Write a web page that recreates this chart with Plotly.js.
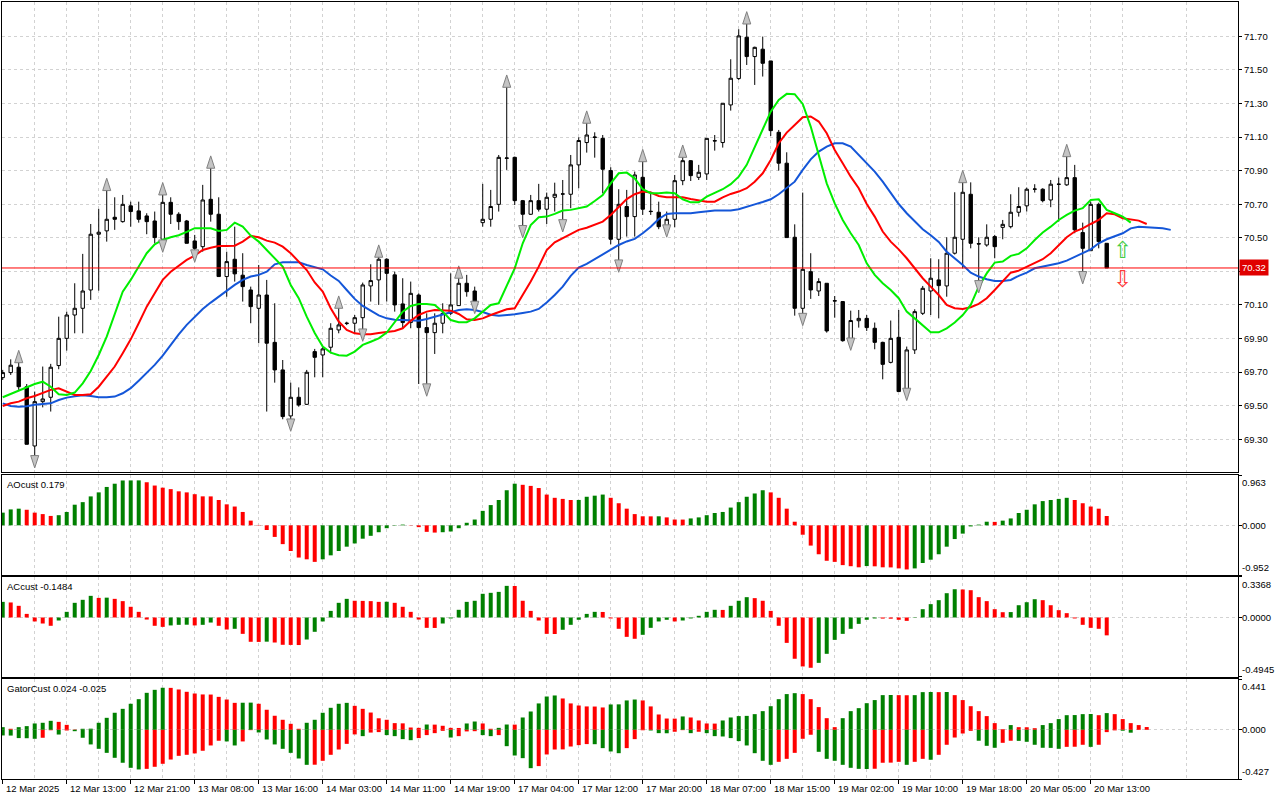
<!DOCTYPE html>
<html><head><meta charset="utf-8">
<script src="https://cdn.plot.ly/plotly-3.0.1.min.js"></script>
<style>html,body{margin:0;padding:0;background:#fff;}#chart{width:1280px;height:800px;}</style>
</head><body><div id="chart"></div>
<script>
const openP=[69.667,69.697,69.729,69.613,69.260,69.524,69.550,69.739,69.901,70.040,
70.080,70.189,70.521,70.541,70.622,70.596,70.690,70.660,70.630,70.600,
70.491,70.711,70.640,70.600,70.481,70.447,70.729,70.640,70.269,70.372,
70.277,70.189,70.080,70.159,69.877,69.713,69.439,69.550,69.508,69.822,
69.802,69.848,69.951,69.989,69.991,70.024,70.213,70.249,70.372,70.279,
70.106,69.995,70.159,69.965,69.935,69.991,70.050,70.096,70.229,70.183,
70.590,70.610,70.699,70.973,70.979,70.721,70.640,70.721,70.670,70.741,
70.760,70.759,70.934,71.067,71.100,71.092,70.900,70.491,70.686,70.626,
70.860,70.658,70.652,70.566,70.610,70.840,70.959,70.860,70.880,71.076,
71.067,71.291,71.448,71.694,71.579,71.623,71.553,71.128,70.944,70.503,
70.080,70.298,70.183,70.229,70.123,70.120,69.877,70.006,70.020,69.961,
69.877,69.758,69.907,69.598,69.832,70.050,70.183,70.249,70.213,70.408,
70.491,70.759,70.465,70.457,70.507,70.562,70.566,70.652,70.690,70.789,
70.789,70.725,70.818,70.815,70.858,70.531,70.423,70.699,70.467];
const highP=[69.713,69.776,69.776,69.629,69.584,69.733,69.749,70.030,70.060,70.229,
70.404,70.582,70.672,70.801,70.741,70.755,70.715,70.715,70.646,70.656,
70.775,70.741,70.652,70.606,70.517,70.815,70.934,70.741,70.417,70.566,
70.408,70.209,70.338,70.249,70.110,69.772,69.637,69.609,69.713,69.838,
69.852,69.991,70.100,70.000,70.040,70.233,70.342,70.404,70.378,70.298,
70.259,70.239,70.169,70.050,70.050,70.110,70.288,70.279,70.279,70.209,
70.821,70.785,70.993,71.416,70.983,70.725,70.755,70.821,70.769,70.828,
70.844,70.993,71.098,71.202,71.128,71.112,70.920,70.789,70.785,70.894,
70.973,70.775,70.715,70.656,70.874,70.999,70.963,70.934,71.092,71.112,
71.301,71.563,71.742,71.793,71.638,71.698,71.553,71.142,71.009,70.580,
70.769,70.408,70.259,70.229,70.153,70.123,70.066,70.070,70.040,69.995,
69.881,70.007,70.070,69.852,70.074,70.213,70.378,70.372,70.503,70.771,
70.848,70.830,70.503,70.580,70.517,70.606,70.759,70.801,70.799,70.819,
70.795,70.844,70.858,71.003,70.934,70.590,70.715,70.709,70.467];
const lowP=[69.653,69.683,69.594,69.270,69.177,69.490,69.465,69.717,69.828,69.931,
69.931,70.130,70.185,70.477,70.547,70.590,70.566,70.590,70.521,70.467,
70.461,70.582,70.547,70.467,70.402,70.417,70.596,70.269,70.149,70.239,
70.120,69.991,69.872,69.465,69.637,69.419,69.395,69.494,69.504,69.669,
69.669,69.812,69.931,69.980,69.931,69.931,70.120,70.100,70.120,70.060,
69.961,69.961,69.629,69.604,69.808,69.931,70.040,70.094,70.149,70.096,
70.566,70.566,70.656,70.904,70.695,70.547,70.636,70.656,70.582,70.656,
70.582,70.676,70.795,71.007,70.977,70.765,70.461,70.342,70.507,70.507,
70.636,70.636,70.551,70.551,70.562,70.813,70.838,70.844,70.844,71.019,
71.037,71.257,71.440,71.529,71.410,71.460,71.106,70.900,70.501,70.036,
70.024,70.136,70.153,69.935,70.024,69.881,69.877,69.965,69.945,69.836,
69.657,69.752,69.584,69.578,69.808,70.040,70.040,70.020,70.149,70.400,
70.318,70.437,70.219,70.447,70.378,70.491,70.556,70.626,70.656,70.769,
70.711,70.682,70.596,70.809,70.527,70.273,70.423,70.437,70.320];
const closeP=[69.697,69.741,69.613,69.270,69.524,69.540,69.729,69.901,70.040,70.080,
70.183,70.521,70.533,70.610,70.610,70.699,70.656,70.610,70.596,70.501,
70.711,70.640,70.596,70.467,70.437,70.725,70.640,70.269,70.358,70.285,
70.209,70.090,70.159,69.872,69.713,69.435,69.550,69.504,69.699,69.788,
69.838,69.961,69.981,69.991,70.024,70.219,70.245,70.372,70.288,70.100,
69.995,70.169,69.965,69.935,69.991,70.050,70.100,70.229,70.179,70.120,
70.610,70.686,70.979,70.975,70.721,70.640,70.721,70.670,70.741,70.759,
70.761,70.934,71.079,71.112,71.098,70.908,70.491,70.699,70.626,70.874,
70.670,70.656,70.566,70.610,70.840,70.959,70.870,70.890,71.092,71.078,
71.301,71.450,71.702,71.579,71.634,71.539,71.138,70.944,70.501,70.080,
70.312,70.189,70.239,69.945,70.125,69.887,70.007,70.020,69.965,69.877,
69.746,69.901,69.584,69.832,70.060,70.199,70.259,70.215,70.408,70.503,
70.771,70.467,70.463,70.503,70.447,70.580,70.652,70.686,70.789,70.790,
70.721,70.819,70.819,70.858,70.547,70.437,70.699,70.477,70.32];

// Alligator lines (lips shifted +3, teeth +5, jaw +8)
const lips=[69.550,69.570,69.590,69.613,69.629,69.643,69.613,69.568,69.564,69.578,
69.633,69.707,69.802,69.911,70.050,70.179,70.249,70.328,70.408,70.461,
70.487,70.503,70.515,70.535,70.557,70.557,70.557,70.541,70.547,70.590,
70.566,70.513,70.477,70.427,70.378,70.328,70.219,70.140,70.030,69.933,
69.852,69.816,69.800,69.798,69.822,69.862,69.881,69.901,69.935,69.995,
70.060,70.094,70.106,70.106,70.100,70.060,70.010,69.997,69.997,70.020,
70.060,70.100,70.110,70.209,70.318,70.467,70.576,70.622,70.626,70.642,
70.662,70.666,70.674,70.686,70.719,70.755,70.824,70.884,70.888,70.854,
70.789,70.765,70.765,70.769,70.765,70.729,70.711,70.711,70.745,70.769,
70.789,70.819,70.864,70.934,71.043,71.152,71.251,71.321,71.357,71.355,
71.297,71.162,70.993,70.824,70.705,70.606,70.527,70.457,70.348,70.279,
70.229,70.189,70.140,70.060,70.020,69.981,69.937,69.937,69.961,69.995,
70.040,70.100,70.209,70.288,70.352,70.358,70.392,70.404,70.437,70.487,
70.531,70.566,70.606,70.636,70.662,70.676,70.725,70.729,70.666,70.646,
70.626,70.590];
const teeth=[69.498,69.514,69.524,69.544,69.558,69.574,69.594,69.604,69.584,69.564,
69.564,69.568,69.613,69.673,69.733,69.812,69.895,69.991,70.090,70.169,
70.249,70.298,70.334,70.368,70.394,70.427,70.441,70.451,70.451,70.453,
70.477,70.511,70.503,70.483,70.471,70.447,70.408,70.358,70.308,70.234,
70.179,70.080,70.001,69.951,69.931,69.925,69.925,69.933,69.939,69.945,
69.961,70.005,70.040,70.060,70.070,70.070,70.066,70.046,70.014,70.010,
70.020,70.040,70.056,70.074,70.080,70.159,70.239,70.328,70.427,70.473,
70.499,70.523,70.547,70.560,70.576,70.596,70.636,70.686,70.730,70.759,
70.775,70.769,70.749,70.741,70.741,70.741,70.731,70.721,70.715,70.715,
70.741,70.761,70.775,70.795,70.834,70.884,70.963,71.063,71.126,71.172,
71.218,71.222,71.192,71.122,71.023,70.944,70.864,70.795,70.701,70.626,
70.537,70.477,70.431,70.378,70.318,70.259,70.209,70.159,70.100,70.080,
70.076,70.086,70.106,70.140,70.189,70.239,70.292,70.304,70.328,70.348,
70.372,70.408,70.457,70.503,70.537,70.556,70.582,70.606,70.646,70.640,
70.616,70.610,70.602,70.582];
const jaw=[69.514,69.498,69.494,69.496,69.506,69.512,69.514,69.534,69.548,69.556,
69.562,69.558,69.550,69.550,69.554,69.574,69.604,69.649,69.693,69.743,
69.798,69.862,69.925,69.981,70.030,70.076,70.114,70.149,70.185,70.219,
70.249,70.269,70.279,70.298,70.342,70.354,70.354,70.354,70.338,70.326,
70.312,70.275,70.243,70.189,70.136,70.094,70.064,70.038,70.020,70.012,
70.010,70.010,70.006,70.016,70.030,70.046,70.060,70.070,70.074,70.070,
70.058,70.042,70.036,70.038,70.044,70.052,70.060,70.076,70.114,70.159,
70.209,70.273,70.322,70.344,70.372,70.404,70.427,70.457,70.478,70.493,
70.527,70.566,70.612,70.642,70.646,70.646,70.646,70.652,70.658,70.662,
70.662,70.662,70.670,70.686,70.699,70.713,70.729,70.759,70.795,70.834,
70.904,70.967,71.013,71.043,71.063,71.063,71.043,70.993,70.948,70.894,
70.834,70.769,70.701,70.646,70.596,70.551,70.515,70.475,70.417,70.378,
70.338,70.292,70.269,70.253,70.243,70.243,70.249,70.273,70.292,70.318,
70.328,70.342,70.348,70.364,70.384,70.408,70.431,70.467,70.491,70.511,
70.527,70.556,70.566,70.562,70.560,70.556,70.547];

const fractalUpIdx=[2,13,20,26,42,47,57,63,73,80,85,93,120,133];
const fractalDnIdx=[4,20,24,36,45,53,59,65,70,77,83,100,106,113,122,135];
const signalIdx=[140];
const signalUpY=[70.415];
const signalDnY=[70.240];

const ao=[0.243,0.305,0.319,0.298,0.243,0.215,0.180,0.194,0.256,0.395,
0.444,0.554,0.631,0.735,0.797,0.859,0.860,0.861,0.825,0.762,
0.721,0.693,0.651,0.631,0.596,0.555,0.554,0.485,0.402,0.360,
0.256,0.090,0.007,-0.090,-0.222,-0.360,-0.492,-0.617,-0.651,-0.700,
-0.651,-0.575,-0.492,-0.409,-0.347,-0.256,-0.201,-0.132,-0.055,-0.007,
0.014,0.005,-0.035,-0.125,-0.139,-0.132,-0.118,-0.055,0.049,0.111,
0.277,0.388,0.485,0.672,0.797,0.776,0.755,0.714,0.589,0.527,
0.506,0.485,0.486,0.547,0.568,0.589,0.527,0.423,0.319,0.215,
0.173,0.172,0.173,0.152,0.111,0.110,0.132,0.152,0.194,0.236,
0.256,0.340,0.444,0.547,0.610,0.672,0.631,0.527,0.319,0.069,
-0.180,-0.388,-0.554,-0.679,-0.700,-0.762,-0.783,-0.804,-0.780,-0.785,
-0.804,-0.806,-0.825,-0.845,-0.825,-0.721,-0.658,-0.554,-0.409,-0.263,
-0.159,-0.021,0.014,0.069,0.066,0.090,0.132,0.236,0.298,0.402,
0.464,0.485,0.506,0.527,0.485,0.423,0.360,0.319,0.179];
const aoColor="gggrrrrggg"+"ggggggggrr"+"rrrrrrrrrr"+"rrrrrrrrrr"+"gggggggggg"+"grrrrggggg"+"gggggrrrrr"+"rrggggrrrr"+"rrgrrrgggg"+"ggggggrrrr"+"rrrrrrrrgr"+"rrrrgggggg"+"ggggrggggg"+"ggggrrrrr";
const aoScale=[-0.952,0.963];

const ac=[0.130,0.125,0.097,0.030,-0.033,-0.050,-0.069,-0.025,0.047,0.122,
0.147,0.180,0.163,0.165,0.155,0.136,0.089,0.047,-0.017,-0.069,
-0.078,-0.066,-0.061,-0.060,-0.066,-0.061,-0.042,-0.069,-0.100,-0.094,
-0.136,-0.202,-0.203,-0.201,-0.208,-0.227,-0.228,-0.229,-0.183,-0.119,
-0.033,0.055,0.122,0.155,0.139,0.138,0.136,0.130,0.131,0.122,
0.089,0.047,-0.017,-0.086,-0.087,-0.050,-0.008,0.064,0.130,0.139,
0.197,0.205,0.213,0.263,0.262,0.139,0.055,-0.025,-0.136,-0.137,
-0.102,-0.061,-0.019,0.030,0.047,0.046,-0.008,-0.094,-0.161,-0.177,
-0.144,-0.086,-0.033,-0.019,-0.033,-0.025,-0.008,0.014,0.047,0.064,
0.063,0.097,0.139,0.169,0.161,0.139,0.055,-0.069,-0.211,-0.343,
-0.407,-0.418,-0.377,-0.302,-0.186,-0.136,-0.094,-0.053,-0.019,-0.008,
-0.009,-0.010,-0.019,-0.028,0.003,0.069,0.111,0.144,0.202,0.235,
0.233,0.227,0.169,0.136,0.069,0.044,0.045,0.102,0.127,0.152,
0.144,0.102,0.061,0.036,-0.008,-0.061,-0.086,-0.094,-0.1484];
const acColor="grrrrrrggg"+"ggrgrrrrrr"+"rgggrggrrg"+"rrrgrrrrgg"+"ggggrrrrgr"+"rrrrrggggg"+"ggggrrrrrr"+"gggggrrrrr"+"ggggrggggg"+"rgggrrrrrr"+"rrgggggggg"+"rrrrgggggg"+"rrrrrrgggg"+"rrrrrrrrr";
const acScale=[-0.4945,0.3368];

const gatorUp=[0.023,0.009,0.023,0.032,0.055,0.061,0.078,0.069,0.043,0.003,
0.009,0.010,0.061,0.104,0.148,0.182,0.226,0.266,0.321,0.347,
0.365,0.364,0.350,0.330,0.315,0.307,0.306,0.286,0.263,0.234,
0.235,0.236,0.226,0.174,0.122,0.087,0.052,0.009,0.061,0.087,
0.148,0.191,0.226,0.234,0.208,0.182,0.150,0.100,0.087,0.058,
0.056,0.020,0.017,0.046,0.045,0.035,0.017,0.016,0.055,0.072,
0.055,0.009,0.017,0.046,0.045,0.107,0.159,0.229,0.289,0.298,
0.272,0.229,0.211,0.203,0.202,0.194,0.220,0.221,0.255,0.263,
0.255,0.203,0.133,0.098,0.097,0.116,0.107,0.081,0.055,0.054,
0.081,0.107,0.119,0.121,0.136,0.162,0.205,0.266,0.310,0.318,
0.310,0.266,0.197,0.101,0.023,0.101,0.162,0.188,0.231,0.258,
0.301,0.302,0.301,0.300,0.301,0.327,0.328,0.327,0.328,0.301,
0.258,0.205,0.162,0.119,0.058,0.006,0.041,0.023,0.022,0.014,
0.041,0.058,0.093,0.127,0.128,0.136,0.137,0.127,0.145,0.136,
0.093,0.058,0.041,0.024];
const gatorUpColor="grgggggrrr"+"gggggggggg"+"grrrrrrrrr"+"ggrrrrrrgg"+"ggggrrrrrr"+"rrrgrrrrgg"+"rrggrggggg"+"rrrrrrgggg"+"rrrrrgrrrr"+"gggggggggg"+"rrrrrggggg"+"ggrrgggrgr"+"rrrrrrgrrr"+"gggggggrgr"+"rrrr";
const gatorLo=[-0.049,-0.050,-0.072,-0.073,-0.078,-0.069,-0.004,-0.041,-0.006,-0.012,
-0.069,-0.127,-0.165,-0.200,-0.243,-0.286,-0.330,-0.344,-0.339,-0.321,
-0.295,-0.258,-0.226,-0.217,-0.205,-0.182,-0.136,-0.095,-0.101,-0.136,
-0.101,-0.003,-0.023,-0.084,-0.127,-0.165,-0.200,-0.249,-0.304,-0.303,
-0.269,-0.217,-0.171,-0.122,-0.040,-0.055,-0.024,-0.020,-0.046,-0.055,
-0.081,-0.090,-0.072,-0.046,-0.029,-0.009,-0.067,-0.055,-0.014,-0.012,
-0.046,-0.055,-0.046,-0.142,-0.223,-0.246,-0.333,-0.315,-0.214,-0.171,
-0.170,-0.145,-0.133,-0.124,-0.125,-0.159,-0.188,-0.203,-0.159,-0.081,
-0.004,-0.006,-0.029,-0.030,-0.017,-0.003,-0.029,-0.017,-0.029,-0.055,
-0.058,-0.072,-0.098,-0.136,-0.203,-0.269,-0.304,-0.278,-0.252,-0.200,
-0.078,-0.043,-0.191,-0.252,-0.269,-0.304,-0.330,-0.339,-0.340,-0.338,
-0.286,-0.285,-0.278,-0.304,-0.278,-0.252,-0.260,-0.217,-0.130,-0.067,
-0.032,-0.009,-0.095,-0.139,-0.156,-0.113,-0.095,-0.096,-0.104,-0.130,
-0.156,-0.157,-0.165,-0.148,-0.147,-0.130,-0.148,-0.130,-0.020,-0.005,
-0.008,-0.025];
const gatorLoColor="gggggrrgrg"+"ggggggggrr"+"rrrrrrrrgg"+"rrgggggggr"+"rrrrrgrrgg"+"ggrrrrgrrr"+"ggrggggrrr"+"rrrrggggrr"+"rgggrrgrgg"+"gggggggrrr"+"rrgggggggr"+"rrrgrrgrrr"+"rrgggrrggg"+"gggrrrgrrr"+"gg";
const gatorScale=[-0.427,0.441];

const priceTicks=[69.3,69.5,69.7,69.9,70.1,70.3,70.5,70.7,70.9,71.1,71.3,71.5,71.7];
const tickIdx=[0,8,16,24,32,40,48,56,64,72,80,88,96,104,112,120,128,136];
const tickText=["12 Mar 2025","12 Mar 13:00","12 Mar 21:00","13 Mar 08:00","13 Mar 16:00","14 Mar 03:00","14 Mar 11:00","14 Mar 19:00","17 Mar 04:00","17 Mar 12:00","17 Mar 20:00","18 Mar 07:00","18 Mar 15:00","19 Mar 02:00","19 Mar 10:00","19 Mar 18:00","20 Mar 05:00","20 Mar 13:00"];

// ---------- drawing ----------
const FONT="Liberation Sans";
const FS=9.5;
const GREEN="#008000", RED="#ff0000";
const col=s=>s.split("").map(c=>c==="g"?GREEN:RED);
const idx=n=>Array.from({length:n},(_,i)=>i);

const xRange=[-0.09,154.41];
const yRange=[69.105,71.904];
const mainPx=470;
const upPad=9*(yRange[1]-yRange[0])/mainPx;
const dnPad=8*(yRange[1]-yRange[0])/mainPx;
const lastClose=closeP[closeP.length-1];

const traces=[];
traces.push({type:"candlestick",x:idx(openP.length),open:openP,high:highP,low:lowP,close:closeP,
  xaxis:"x",yaxis:"y",hoverinfo:"skip",whiskerwidth:0,
  increasing:{line:{color:"#000",width:1},fillcolor:"#ffffff"},
  decreasing:{line:{color:"#000",width:1},fillcolor:"#000000"},showlegend:false});
traces.push({type:"scatter",mode:"lines",x:idx(jaw.length),y:jaw,line:{color:"#1456d8",width:2},xaxis:"x",yaxis:"y",hoverinfo:"skip"});
traces.push({type:"scatter",mode:"lines",x:idx(teeth.length),y:teeth,line:{color:"#ff0000",width:2},xaxis:"x",yaxis:"y",hoverinfo:"skip"});
traces.push({type:"scatter",mode:"lines",x:idx(lips.length),y:lips,line:{color:"#00ee00",width:2},xaxis:"x",yaxis:"y",hoverinfo:"skip"});
traces.push({type:"scatter",mode:"markers",x:fractalUpIdx,y:fractalUpIdx.map(i=>highP[i]+upPad),
  marker:{symbol:"arrow",size:13,color:"#c4c4c4",line:{color:"#808080",width:1}},xaxis:"x",yaxis:"y",hoverinfo:"skip"});
traces.push({type:"scatter",mode:"markers",x:fractalDnIdx,y:fractalDnIdx.map(i=>lowP[i]-dnPad),
  marker:{symbol:"arrow",angle:180,size:13,color:"#c4c4c4",line:{color:"#808080",width:1}},xaxis:"x",yaxis:"y",hoverinfo:"skip"});
// buy / sell signal arrows, stacked in one text so their boxes do not collide
traces.push({type:"scatter",mode:"text",x:signalIdx,y:signalIdx.map((s,k)=>(signalUpY[k]+signalDnY[k])/2),
  text:['<span style="color:#44cc44">\u21e7</span><br><span style="color:#ff3a3a">\u21e9</span>'],
  textfont:{family:"DejaVu Sans",size:23,color:"#44cc44"},xaxis:"x",yaxis:"y",hoverinfo:"skip"});
traces.push({type:"bar",x:idx(ao.length),y:ao,width:0.5,marker:{color:col(aoColor),line:{width:0}},xaxis:"x2",yaxis:"y2",hoverinfo:"skip"});
traces.push({type:"bar",x:idx(ac.length),y:ac,width:0.5,marker:{color:col(acColor),line:{width:0}},xaxis:"x3",yaxis:"y3",hoverinfo:"skip"});
traces.push({type:"bar",x:idx(gatorUp.length),y:gatorUp,width:0.5,marker:{color:col(gatorUpColor),line:{width:0}},xaxis:"x4",yaxis:"y4",hoverinfo:"skip"});
traces.push({type:"bar",x:idx(gatorLo.length),y:gatorLo,width:0.5,marker:{color:col(gatorLoColor),line:{width:0}},xaxis:"x4",yaxis:"y4",hoverinfo:"skip"});

const GRID="#d2d2d2", DASH="3px,3px";
const minorGrid=[];for(let g=4;g<=156;g+=8)minorGrid.push(g);
function xax(anchor,extra){
  return Object.assign({domain:[0,1],range:xRange,anchor:anchor,showticklabels:false,
    tickmode:"array",tickvals:tickIdx,ticks:"",showgrid:true,gridcolor:GRID,griddash:DASH,gridwidth:1,
    minor:{tickmode:"array",tickvals:minorGrid,showgrid:true,gridcolor:GRID,griddash:DASH,ticks:""},
    showline:true,mirror:true,linecolor:"#000",linewidth:1,zeroline:false,fixedrange:true},extra||{});
}
const dMain=[0.3951,1], dAO=[0.2625,0.3912], dAC=[0.1313,0.2600], dG=[0,0.1287];
function oscY(anchor,dom,sc){
  return {domain:dom,range:sc,anchor:anchor,side:"right",tickmode:"array",tickvals:[sc[0],0,sc[1]],
    showticklabels:false,ticks:"outside",ticklen:3,tickcolor:"#000",
    showgrid:true,gridcolor:GRID,griddash:DASH,zeroline:false,
    showline:true,mirror:true,linecolor:"#000",linewidth:1,fixedrange:true};
}
// the current-price box covers the tick label it sits on, as in the terminal
const priceTickText=priceTicks.map(v=>Math.abs(v-lastClose)<0.06?"":v.toFixed(2));
const layout={
  width:1280,height:800,margin:{l:2,r:42,t:2,b:21},paper_bgcolor:"#fff",plot_bgcolor:"#fff",
  showlegend:false,barmode:"overlay",boxgap:0.4,font:{family:FONT,size:FS,color:"#000"},
  xaxis:xax("y",{rangeslider:{visible:false}}),
  xaxis2:xax("y2",{matches:"x"}),
  xaxis3:xax("y3",{matches:"x"}),
  xaxis4:xax("y4",{matches:"x",ticks:"outside",ticklen:4,tickcolor:"#000"}),
  yaxis:{domain:dMain,range:yRange,anchor:"x",side:"right",tickmode:"array",tickvals:priceTicks,ticktext:priceTickText,
    ticks:"outside",ticklen:3,tickcolor:"#000",tickfont:{family:FONT,size:FS,color:"#000"},
    showgrid:true,gridcolor:GRID,griddash:DASH,zeroline:false,showline:true,mirror:true,linecolor:"#000",linewidth:1,fixedrange:true},
  yaxis2:oscY("x2",dAO,aoScale),
  yaxis3:oscY("x3",dAC,acScale),
  yaxis4:oscY("x4",dG,gatorScale),
  shapes:[{type:"line",xref:"paper",x0:0,x1:1,yref:"y",y0:lastClose,y1:lastClose,line:{color:"#ff0000",width:1}}],
  annotations:[]
};
const A=layout.annotations;
A.push({xref:"paper",x:1,xanchor:"left",xshift:1,yref:"y",y:lastClose,yanchor:"middle",text:lastClose.toFixed(2),
  showarrow:false,bgcolor:"#e00000",font:{family:FONT,size:FS,color:"#fff"},borderpad:2});
A.push({xref:"paper",x:0,xanchor:"left",xshift:3,yref:"paper",y:dAO[1],yanchor:"top",yshift:-2,showarrow:false,
  text:"AOcust "+ao[ao.length-1].toFixed(3),font:{family:FONT,size:FS,color:"#000"}});
A.push({xref:"paper",x:0,xanchor:"left",xshift:3,yref:"paper",y:dAC[1],yanchor:"top",yshift:-2,showarrow:false,
  text:"ACcust "+ac[ac.length-1].toFixed(4),font:{family:FONT,size:FS,color:"#000"}});
A.push({xref:"paper",x:0,xanchor:"left",xshift:3,yref:"paper",y:dG[1],yanchor:"top",yshift:-2,showarrow:false,
  text:"GatorCust "+gatorUp[gatorUp.length-1].toFixed(3)+" "+gatorLo[gatorLo.length-1].toFixed(3),font:{family:FONT,size:FS,color:"#000"}});
function scaleLabels(dom,sc,dec,yr){
  A.push({xref:"paper",x:1,xanchor:"left",xshift:2,yref:"paper",y:dom[1],yanchor:"top",showarrow:false,text:sc[1].toFixed(dec),font:{family:FONT,size:FS}});
  A.push({xref:"paper",x:1,xanchor:"left",xshift:2,yref:yr,y:0,yanchor:"middle",showarrow:false,text:(0).toFixed(dec),font:{family:FONT,size:FS}});
  A.push({xref:"paper",x:1,xanchor:"left",xshift:2,yref:"paper",y:dom[0],yanchor:"bottom",showarrow:false,text:sc[0].toFixed(dec),font:{family:FONT,size:FS}});
}
scaleLabels(dAO,aoScale,3,"y2");
scaleLabels(dAC,acScale,4,"y3");
scaleLabels(dG,gatorScale,3,"y4");
tickIdx.forEach((t,k)=>{
  A.push({xref:"x4",x:t,xanchor:"left",xshift:1,yref:"paper",y:0,yanchor:"top",yshift:-2,showarrow:false,
    text:tickText[k],font:{family:FONT,size:FS,color:"#000"}});
});
Plotly.newPlot("chart",traces,layout,{displayModeBar:false,staticPlot:true});
</script>
</body></html>
